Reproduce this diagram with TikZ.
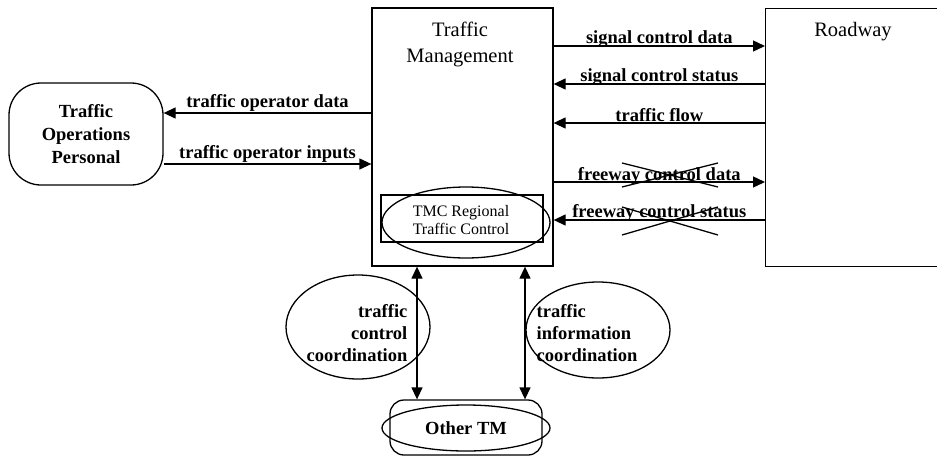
\documentclass[tikz,border=0pt]{standalone}
\usepackage{fontspec}
\setmainfont{Liberation Serif}
\usetikzlibrary{arrows.meta,shapes.geometric}
\begin{document}
\begin{tikzpicture}[x=1pt,y=-1pt,
  line width=1.3pt,
  box/.style={draw, rectangle, inner sep=0pt},
  lbl/.style={font=\fontsize{18.5}{22}\selectfont\bfseries, inner sep=0pt},
  heading/.style={font=\fontsize{20.5}{26}\selectfont, align=center, inner sep=0pt},
  flow/.style={-{Triangle[length=12pt,width=11pt]}},
  dflow/.style={{Triangle[length=12pt,width=11pt]}-{Triangle[length=12pt,width=11pt]}},
  strike/.style={line width=1.3pt},
]
\useasboundingbox (0,0) rectangle (937,458);
\clip (0,0) rectangle (937,458);

% main blocks
\node[box, minimum width=181pt, minimum height=258pt] (tm) at (462.5,137) {};
\node[heading] (tmtitle) at (460,44) {Traffic\\Management};
\node[box, minimum width=200pt, minimum height=258pt, anchor=north west] (road) at (765,8) {};
\node[heading, anchor=base] (roadtitle) at (853,36) {Roadway};

\node[box, rounded corners=32pt, minimum width=154pt, minimum height=102pt,
      font=\fontsize{18.5}{23}\selectfont\bfseries, align=center] (top) at (86,134)
      {Traffic\\Operations\\Personal};

% regional control inside Traffic Management
\node[box, minimum width=162pt, minimum height=47pt] (tmcbox) at (462,218.5) {};
\node[draw, ellipse, minimum width=168pt, minimum height=71pt, inner sep=0pt] (tmc) at (466,222.5) {};
\node[font=\fontsize{16}{18}\selectfont, align=center, inner sep=0pt] (tmctext) at (461,220)
      {TMC Regional\\Traffic Control};

% other traffic management centre
\node[box, rounded corners=14pt, minimum width=152pt, minimum height=55pt] (otm) at (466,427.5) {};
\node[draw, ellipse, minimum width=168pt, minimum height=46pt, inner sep=0pt, lbl] (otmell) at (466,428) {Other TM};

% coordination bubbles
\node[draw, ellipse, minimum width=144pt, minimum height=104pt] (tcc) at (358,327) {};
\node[lbl, align=right, anchor=east] (tcctext) at (408,333) {traffic\\control\\coordination};
\node[draw, ellipse, minimum width=144pt, minimum height=96pt] (tic) at (598,330) {};
\node[lbl, align=left, anchor=west] (tictext) at (536,333) {traffic\\information\\coordination};

% flows to and from the roadway
\draw[flow] (tm.east |- 0,46) -- (road.west |- 0,46)
  node[lbl, midway, anchor=base, yshift=3pt] (f1) {signal control data};
\draw[flow] (road.west |- 0,84) -- (tm.east |- 0,84)
  node[lbl, midway, anchor=base, yshift=3pt] (f2) {signal control status};
\draw[flow] (road.west |- 0,123) -- (tm.east |- 0,123)
  node[lbl, midway, anchor=base, yshift=2pt] (f3) {traffic flow};
\draw[flow] (tm.east |- 0,182) -- (road.west |- 0,182)
  node[lbl, midway, anchor=base, yshift=2pt] (f4) {freeway control data};
\draw[flow] (road.west |- 0,220) -- (tm.east |- 0,220)
  node[lbl, midway, anchor=base, yshift=3pt] (f5) {freeway control status};

% struck-out freeway flows
\draw[strike] (622,163) -- (718,187);
\draw[strike] (622,187) -- (718,163);
\draw[strike] (622,207) -- (718,235);
\draw[strike] (622,235) -- (718,207);

% operator flows
\draw[flow] (tm.west |- 0,113) -- (top.east |- 0,113)
  node[lbl, midway, anchor=base, yshift=6pt] (o1) {traffic operator data};
\draw[flow] (top.east |- 0,164) -- (tm.west |- 0,164)
  node[lbl, midway, anchor=base, yshift=6pt] (o2) {traffic operator inputs};

% centre-to-centre links
\draw[dflow] (tm.south -| 417,0) -- (otm.north -| 417,0);
\draw[dflow] (tm.south -| 525,0) -- (otm.north -| 525,0);
\end{tikzpicture}
\end{document}
